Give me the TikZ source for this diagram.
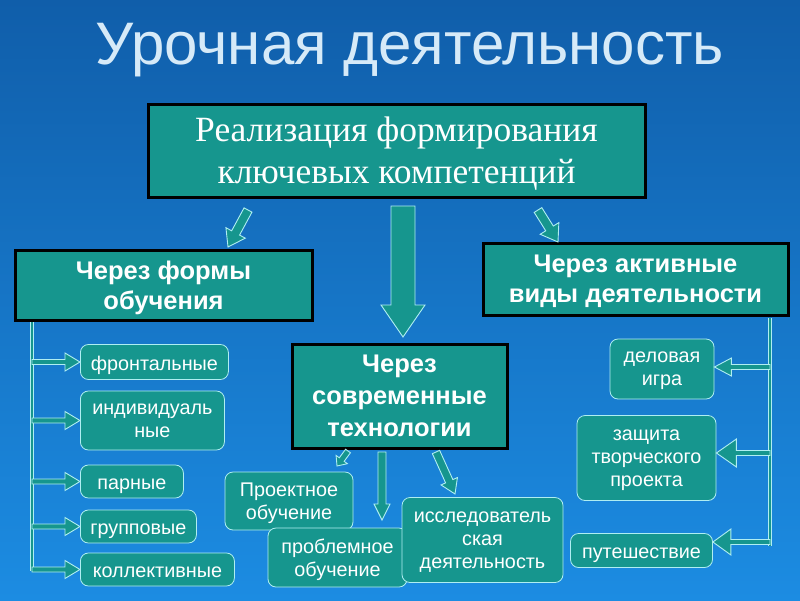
\documentclass[tikz,border=0pt]{standalone}
\usepackage{fontspec}
\setmainfont{Liberation Serif}
\setsansfont{Liberation Sans}
\usetikzlibrary{calc}

\definecolor{bgtop}{RGB}{16,94,170}
\definecolor{bgbot}{RGB}{28,140,226}
\definecolor{boxteal}{RGB}{22,150,142}
\definecolor{edgecyan}{RGB}{175,238,242}
\definecolor{titlegray}{RGB}{214,234,248}

\tikzset{
  mainbox/.style={draw=black, line width=3pt, fill=boxteal, text=white, align=center, inner sep=0pt,
    execute at begin node=\strut, text depth=0pt},
  formtext/.style={font=\sffamily\bfseries\fontsize{25.5}{30}\selectfont},
  itembox/.style={draw=edgecyan, line width=0.8pt, fill=boxteal, text=white, align=center,
    rounded corners=8pt, inner sep=0pt, execute at begin node=\strut, text depth=0pt,
    font=\sffamily\fontsize{19.8}{23}\selectfont},
  spine/.style={draw=edgecyan, line width=0.9pt, double=boxteal, double distance=2.5pt},
  blockarrow/.style n args={3}{fill=boxteal, draw=edgecyan, line width=0.9pt, line join=miter,
    to path={($(\tikztotarget)!#3pt!(\tikztostart)$) coordinate (ab)
      ($(\tikztostart)!#1pt!90:(\tikztotarget)$) -- ($(ab)!#1pt!90:(\tikztotarget)$)
      -- ($(ab)!#2pt!90:(\tikztotarget)$) -- (\tikztotarget)
      -- ($(ab)!#2pt!-90:(\tikztotarget)$) -- ($(ab)!#1pt!-90:(\tikztotarget)$)
      -- ($(\tikztostart)!#1pt!-90:(\tikztotarget)$) -- cycle}}
}

\begin{document}
\begin{tikzpicture}[x=1pt, y=-1pt]
    \shade[top color=bgtop, bottom color=bgbot] (0,0) rectangle (800,600);
    \useasboundingbox (0,0) rectangle (800,600);

    % title
    \node[text=titlegray, font=\sffamily\fontsize{60}{60}\selectfont] (title) at (410,50) {Урочная деятельность};

    % main boxes
    \node[mainbox, minimum width=497, minimum height=93, font=\fontsize{35.5}{42}\selectfont] (goal) at (396.5,150.5)
        {Реализация формирования\\ключевых компетенций};
    \node[mainbox, formtext, minimum width=297, minimum height=70] (forms) at (163.5,285) {Через формы\\обучения};
    \node[mainbox, formtext, minimum width=305, minimum height=72] (active) at (635.5,279) {Через активные\\виды деятельности};
    \node[mainbox, formtext, minimum width=215, minimum height=104, font=\sffamily\bfseries\fontsize{25.5}{32}\selectfont] (tech) at (399.5,396)
        {Через\\современные\\технологии};

    % forms of learning
    \node[itembox, anchor=west, minimum width=148, minimum height=35] (front) at (80,362) {фронтальные};
    \node[itembox, anchor=west, minimum width=144, minimum height=59] (indiv) at (80,420.5) {индивидуаль\\ные};
    \node[itembox, anchor=west, minimum width=103, minimum height=33] (pair) at (80,481.5) {парные};
    \node[itembox, anchor=west, minimum width=116, minimum height=33] (group) at (80,526.5) {групповые};
    \node[itembox, anchor=west, minimum width=154, minimum height=33] (coll) at (80,569.5) {коллективные};

    % technologies
    \node[itembox, minimum width=128, minimum height=58] (proj) at (289,501) {Проектное\\обучение};
    \node[itembox, minimum width=139, minimum height=59] (probl) at (337.5,557.5) {проблемное\\обучение};
    \node[itembox, minimum width=161, minimum height=85] (research) at (482.5,540) {исследователь\\ская\\деятельность};

    % active kinds
    \node[itembox, minimum width=104, minimum height=60] (game) at (662,369) {деловая\\игра};
    \node[itembox, minimum width=139, minimum height=85] (defence) at (646.5,458) {защита\\творческого\\проекта};
    \node[itembox, minimum width=142, minimum height=34] (trip) at (641.5,550.5) {путешествие};

    % arrows from the main box
    \coordinate (c1) at (403,206);
    \coordinate (c2) at (403,337);
    \coordinate (l1) at (248,210);
    \coordinate (l2) at (228,247);
    \coordinate (r1) at (538,210);
    \coordinate (r2) at (558,242);
    \draw[blockarrow={12}{22}{32}] (c1) to (c2);
    \draw[blockarrow={4.5}{11}{16}] (l1) to (l2);
    \draw[blockarrow={4.5}{11}{16}] (r1) to (r2);

    % arrows from technologies
    \coordinate (t1) at (348,451);
    \coordinate (t2) at (337,466);
    \coordinate (t3) at (382,452);
    \coordinate (t4) at (382,520);
    \coordinate (t5) at (436,452);
    \coordinate (t6) at (455,494);
    \draw[blockarrow={3}{7}{8}] (t1) to (t2);
    \draw[blockarrow={4}{8}{16}] (t3) to (t4);
    \draw[blockarrow={4}{9}{14}] (t5) to (t6);

    % left spine
    \coordinate (ls1) at (32,322);
    \coordinate (ls2) at (32,571);
    \draw[spine] (ls1) -- (ls2);
    \foreach \b in {front, indiv, pair, group, coll}
        \draw[blockarrow={2.5}{9}{15}] (ls1 |- \b.west) to (\b.west);

    % right spine
    \coordinate (rs1) at (770,318);
    \coordinate (rs2) at (770,546);
    \draw[spine] (rs1) -- (rs2);
    \coordinate (g1) at (770,367);
    \coordinate (d1) at (770,453);
    \coordinate (p1) at (770,542);
    \draw[blockarrow={2.5}{9}{17}] (g1) to (g1 -| game.east);
    \draw[blockarrow={2.5}{14}{20}] (d1) to (d1 -| defence.east);
    \draw[blockarrow={2.5}{13}{18}] (p1) to (p1 -| trip.east);
\end{tikzpicture}
\end{document}
